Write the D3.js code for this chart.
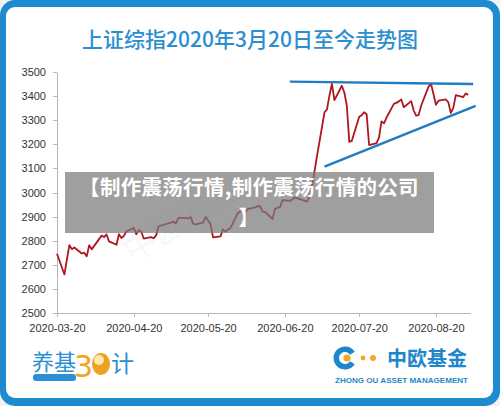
<!DOCTYPE html>

<head>
  <meta charset="utf-8">
  <script src="https://d3js.org/d3.v7.min.js"></script>
  <style>

    body {
      margin: 0;
      background: #f2f2f2;
    }

    .axis path,
    .axis line {
      stroke: #b8b8b8;
      stroke-width: 1px;
      shape-rendering: crispEdges;
    }

    .axis text {
      font-family: "Liberation Sans", Arial, sans-serif;
      font-size: 11px;
      fill: #333;
    }

    .cjk {
      font-family: "Noto Sans CJK SC", sans-serif;
    }

  </style>

</head>

<body>

  <svg id="chart" width="500" height="406"></svg>

  <script>

    // Shanghai Composite daily closes, 2020-03-20 .. 2020-09-02
    var dates = [
      "2020-03-20", "2020-03-23", "2020-03-24", "2020-03-25", "2020-03-26", "2020-03-27",
      "2020-03-30", "2020-03-31", "2020-04-01", "2020-04-02", "2020-04-03",
      "2020-04-07", "2020-04-08", "2020-04-09", "2020-04-10",
      "2020-04-13", "2020-04-14", "2020-04-15", "2020-04-16", "2020-04-17",
      "2020-04-20", "2020-04-21", "2020-04-22", "2020-04-23", "2020-04-24",
      "2020-04-27", "2020-04-28", "2020-04-29", "2020-04-30",
      "2020-05-06", "2020-05-07", "2020-05-08",
      "2020-05-11", "2020-05-12", "2020-05-13", "2020-05-14", "2020-05-15",
      "2020-05-18", "2020-05-19", "2020-05-20", "2020-05-21", "2020-05-22",
      "2020-05-25", "2020-05-26", "2020-05-27", "2020-05-28", "2020-05-29",
      "2020-06-01", "2020-06-02", "2020-06-03", "2020-06-04", "2020-06-05",
      "2020-06-08", "2020-06-09", "2020-06-10", "2020-06-11", "2020-06-12",
      "2020-06-15", "2020-06-16", "2020-06-17", "2020-06-18", "2020-06-19",
      "2020-06-22", "2020-06-23", "2020-06-24", "2020-06-29", "2020-06-30",
      "2020-07-01", "2020-07-02", "2020-07-03",
      "2020-07-06", "2020-07-07", "2020-07-08", "2020-07-09", "2020-07-10",
      "2020-07-13", "2020-07-14", "2020-07-15", "2020-07-16", "2020-07-17",
      "2020-07-20", "2020-07-21", "2020-07-22", "2020-07-23", "2020-07-24",
      "2020-07-27", "2020-07-28", "2020-07-29", "2020-07-30", "2020-07-31",
      "2020-08-03", "2020-08-04", "2020-08-05", "2020-08-06", "2020-08-07",
      "2020-08-10", "2020-08-11", "2020-08-12", "2020-08-13", "2020-08-14",
      "2020-08-17", "2020-08-18", "2020-08-19", "2020-08-20", "2020-08-21",
      "2020-08-24", "2020-08-25", "2020-08-26", "2020-08-27", "2020-08-28",
      "2020-08-31", "2020-09-01", "2020-09-02"
    ];

    var closes = [
      2746, 2660, 2722, 2782, 2765, 2772,
      2747, 2750, 2735, 2781, 2764,
      2821, 2815, 2826, 2797,
      2783, 2827, 2811, 2820, 2838,
      2853, 2827, 2844, 2838, 2809,
      2815, 2810, 2822, 2860,
      2878, 2872, 2895,
      2895, 2892, 2898, 2870, 2868,
      2875, 2899, 2884, 2868, 2814,
      2818, 2847, 2837, 2846, 2852,
      2915, 2921, 2923, 2919, 2931,
      2938, 2944, 2943, 2921, 2920,
      2890, 2932, 2936, 2939, 2968,
      2965, 2971, 2980, 2962, 2985,
      3026, 3091, 3153,
      3333, 3345, 3403, 3451, 3383,
      3443, 3415, 3361, 3210, 3214,
      3314, 3321, 3333, 3325, 3197,
      3205, 3228, 3295, 3287, 3310,
      3368, 3372, 3378, 3386, 3354,
      3379, 3340, 3319, 3321, 3360,
      3439, 3451, 3408, 3364, 3381,
      3386, 3374, 3330, 3351, 3404,
      3396, 3411, 3405
    ];

    // hand drawn trend lines (start / end)
    var resistDates = ["2020-06-22", "2020-09-04"];
    var resistValues = [3460, 3450];
    var supportDates = ["2020-07-06", "2020-09-05"];
    var supportValues = [3107, 3359];

    var yTicks = [2500, 2600, 2700, 2800, 2900, 3000, 3100, 3200, 3300, 3400, 3500];
    var xTickLabels = ["2020-03-20", "2020-04-20", "2020-05-20", "2020-06-20", "2020-07-20", "2020-08-20"];

    var title = "上证综指2020年3月20日至今走势图";
    var bannerLines = ["【制作震荡行情,制作震荡行情的公司", "】"];

    var parse = d3.timeParse("%Y-%m-%d");
    var fmt = d3.timeFormat("%Y-%m-%d");

    var series = dates.map(function(d, i) { return {date: parse(d), value: closes[i]}; });

    var svg = d3.select("#chart");

    // frame
    svg.append("rect")
        .attr("x", 0).attr("y", 0)
        .attr("width", 500).attr("height", 406)
        .attr("rx", 15)
        .attr("fill", "#1c8bcf");

    svg.append("rect")
        .attr("x", 6).attr("y", 7)
        .attr("width", 487).attr("height", 391)
        .attr("rx", 9)
        .attr("fill", "#fff");

    svg.append("text")
        .attr("class", "cjk")
        .attr("x", 250)
        .attr("y", 47)
        .attr("text-anchor", "middle")
        .attr("font-size", 21)
        .attr("font-weight", 500)
        .attr("fill", "#2b8ecf")
        .text(title);

    var x = d3.scaleTime()
        .domain([parse("2020-03-20"), parse("2020-09-03")])
        .range([57, 57 + 167 * 2.477]);

    var y = d3.scaleLinear()
        .domain([2500, 3500])
        .range([313, 72]);

    // faint watermark
    svg.append("text")
        .attr("class", "cjk")
        .attr("transform", "translate(190,228) rotate(-32)")
        .attr("text-anchor", "middle")
        .attr("font-size", 34)
        .attr("fill", "#000")
        .attr("fill-opacity", 0.05)
        .text("中欧基金");

    svg.append("g")
        .attr("class", "axis")
        .attr("transform", "translate(57,0)")
        .call(d3.axisLeft(y)
            .tickValues(yTicks)
            .tickFormat(d3.format("d"))
            .tickSize(4).tickSizeOuter(0).tickPadding(7));

    svg.append("g")
        .attr("class", "axis")
        .attr("transform", "translate(0,313)")
        .call(d3.axisBottom(x)
            .tickValues(xTickLabels.map(parse))
            .tickFormat(fmt)
            .tickSize(4).tickSizeOuter(0).tickPadding(7));

    var line = d3.line()
        .x(function(d) { return x(d.date); })
        .y(function(d) { return y(d.value); });

    svg.append("path")
        .datum(series)
        .attr("d", line)
        .attr("fill", "none")
        .attr("stroke", "#b0161d")
        .attr("stroke-width", 1.8)
        .attr("stroke-linejoin", "round");

    function trend(ds, vs) {
      return ds.map(function(d, i) { return {date: parse(d), value: vs[i]}; });
    }

    [trend(resistDates, resistValues), trend(supportDates, supportValues)].forEach(function(t) {
      svg.append("path")
          .datum(t)
          .attr("d", line)
          .attr("fill", "none")
          .attr("stroke", "#1f7cc4")
          .attr("stroke-width", 2.4);
    });

    // grey banner over the chart
    svg.append("rect")
        .attr("x", 65).attr("y", 172)
        .attr("width", 369).attr("height", 61)
        .attr("fill", "#7a7a7a")
        .attr("fill-opacity", 0.72);

    svg.append("g")
        .selectAll("text")
        .data(bannerLines)
        .enter().append("text")
        .attr("class", "cjk")
        .attr("x", 249)
        .attr("y", function(d, i) { return 195 + i * 30; })
        .attr("text-anchor", "middle")
        .attr("font-size", 20.5)
        .attr("font-weight", 700)
        .attr("letter-spacing", 0.3)
        .attr("fill", "#fff")
        .text(function(d) { return d; });

    // left logo
    var left = svg.append("g");
    left.append("rect")
        .attr("x", 33).attr("y", 374)
        .attr("width", 43).attr("height", 7)
        .attr("rx", 3)
        .attr("fill", "#2a8fd3");
    left.append("text")
        .attr("class", "cjk")
        .attr("x", 32).attr("y", 370)
        .attr("font-size", 22)
        .attr("fill", "#2a8fd3")
        .text("养基");
    left.append("text")
        .attr("x", 74).attr("y", 377)
        .attr("font-family", "DejaVu Sans")
        .attr("font-size", 30)
        .attr("fill", "#f2a31f")
        .text("3");
    left.append("ellipse")
        .attr("cx", 101).attr("cy", 364)
        .attr("rx", 9).attr("ry", 11)
        .attr("fill", "#f0a020");
    left.append("ellipse")
        .attr("cx", 99).attr("cy", 360)
        .attr("rx", 5).attr("ry", 5)
        .attr("fill", "#fde8b0");
    left.append("text")
        .attr("class", "cjk")
        .attr("x", 111).attr("y", 372)
        .attr("font-size", 23)
        .attr("fill", "#2a8fd3")
        .text("计");

    // right logo
    var right = svg.append("g");
    var arc = d3.arc()
        .innerRadius(6).outerRadius(11.5)
        .startAngle(Math.PI * 0.68).endAngle(Math.PI * 2.32);
    right.append("path")
        .attr("transform", "translate(345,358)")
        .attr("d", arc)
        .attr("fill", "#1e87cc");
    right.append("circle").attr("cx", 347).attr("cy", 358).attr("r", 3.6).attr("fill", "#f5a623");
    right.append("circle").attr("cx", 363).attr("cy", 358).attr("r", 2.4).attr("fill", "#f5a623");
    right.append("circle").attr("cx", 373).attr("cy", 358).attr("r", 3).attr("fill", "#f5a623");
    right.append("text")
        .attr("class", "cjk")
        .attr("x", 387).attr("y", 366)
        .attr("font-size", 20)
        .attr("font-weight", 700)
        .attr("fill", "#1e87cc")
        .attr("textLength", 80)
        .text("中欧基金");
    right.append("text")
        .attr("x", 335).attr("y", 383)
        .attr("font-family", "Liberation Sans, Arial, sans-serif")
        .attr("font-size", 8)
        .attr("font-weight", 700)
        .attr("fill", "#1e87cc")
        .attr("textLength", 133)
        .attr("lengthAdjust", "spacingAndGlyphs")
        .text("ZHONG OU ASSET MANAGEMENT");

  </script>

</body>

</html>
